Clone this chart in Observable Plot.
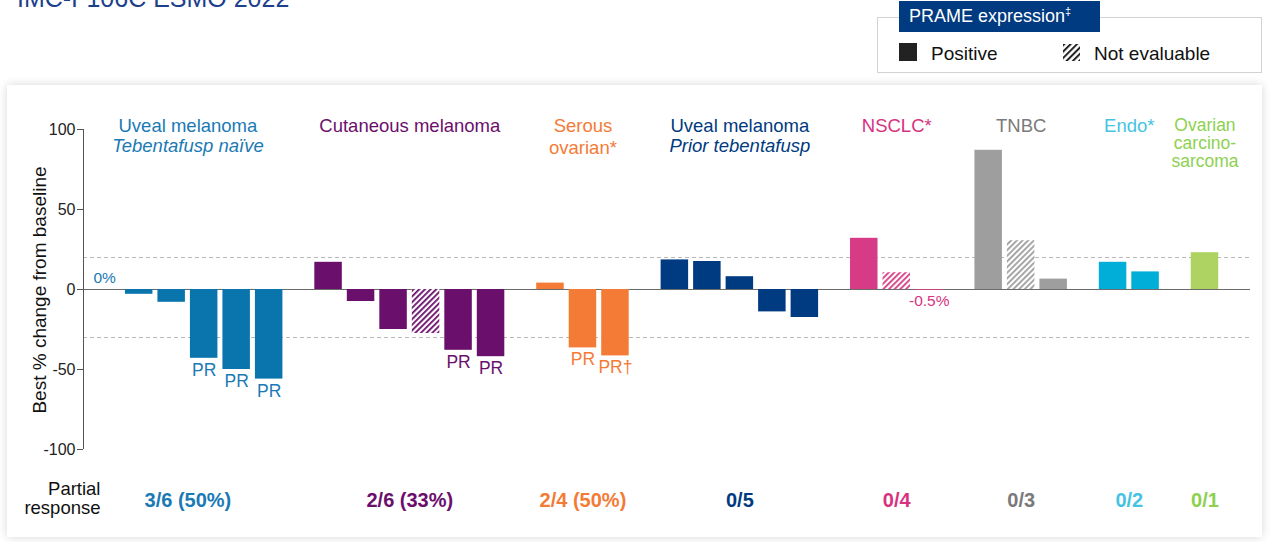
<!DOCTYPE html>
<html><head><meta charset="utf-8">
<script src="https://cdn.jsdelivr.net/npm/d3@7"></script>
<script src="https://cdn.jsdelivr.net/npm/@observablehq/plot@0.6"></script>
<style>
body{margin:0;background:#fff;font-family:"Liberation Sans",Arial,sans-serif;}
#page{position:relative;width:1280px;height:542px;overflow:hidden;background:#fff;}
#title{position:absolute;left:17px;top:-14px;font-size:25px;line-height:25px;color:#1d3f8c;white-space:nowrap;}
#legendBox{position:absolute;left:877px;top:17px;width:385px;height:56px;border:1px solid #d2d2d2;box-sizing:border-box;background:#fff;}
#legendHead{position:absolute;left:899px;top:1px;width:201px;height:31px;background:#003a80;color:#fff;font-size:18px;line-height:31px;padding-left:10px;box-sizing:border-box;white-space:nowrap;}
#legendHead sup{font-size:11px;vertical-align:7px;line-height:0;}
.legItem{position:absolute;top:44px;height:20px;line-height:20px;font-size:19px;color:#111;white-space:nowrap;}
#card{position:absolute;left:7px;top:85px;width:1255px;height:452px;background:#fff;box-shadow:0 0 9px rgba(0,0,0,0.16);}
#chart{position:absolute;left:0;top:85px;}
#ylabel{position:absolute;left:40px;top:290px;transform:translate(-50%,-50%) rotate(-90deg);font-size:19px;color:#111;white-space:nowrap;}
</style></head>
<body>
<div id="page">
  <div id="title">IMC-F106C ESMO 2022</div>
  <div id="legendBox"></div>
  <div id="legendHead">PRAME expression<sup>‡</sup></div>
  <svg class="legItem" style="left:899px;top:43px" width="18" height="18"><rect width="18" height="18" fill="#222"/></svg>
  <div class="legItem" style="left:931px">Positive</div>
  <svg class="legItem" style="left:1063px;top:44px" width="17" height="17"><rect width="17" height="17" fill="url(#hatch-legend)"/></svg>
  <div class="legItem" style="left:1094px">Not evaluable</div>
  <div id="card"></div>
  <div id="chart"></div>
  <div id="ylabel">Best % change from baseline</div>
</div>
<svg width="0" height="0" style="position:absolute" id="defs"><defs id="patdefs"></defs></svg>
<script>
// ---- data ----
const groupNames = ["Uveal melanoma", "Cutaneous melanoma", "Serous\novarian*", "Uveal melanoma", "NSCLC*", "TNBC", "Endo*", "Ovarian\ncarcino-\nsarcoma"];
const groupSubtitles = ["Tebentafusp naïve", "", "", "Prior tebentafusp", "", "", "", ""];
const groupColors = ["#0a75ad", "#6b0f6d", "#f47b36", "#003a80", "#d83b85", "#9e9e9e", "#00aed8", "#aed362"];
const groupTextColors = ["#1a7ab5", "#6b0f6d", "#f47b36", "#003a80", "#d8327f", "#7a7a7a", "#45c3e3", "#8dd14f"];
const responseLabels = ["3/6 (50%)", "2/6 (33%)", "2/4 (50%)", "0/5", "0/4", "0/3", "0/2", "0/1"];

const uvealNaiveValues = [0, -3, -8, -43, -50, -56];
const cutaneousValues = [17, -7.5, -25, -27.5, -38, -42];
const serousValues = [4, -36.5, -41.5];
const uvealPriorValues = [18.5, 17.5, 8, -14, -17.5];
const nsclcValues = [32, 10.5, -0.5];
const tnbcValues = [87, 30.5, 6.5];
const endoValues = [17, 11];
const ovCarcinosarcomaValues = [23];

const uvealNaiveLabels = ["", "", "", "PR", "PR", "PR"];
const cutaneousLabels = ["", "", "", "", "PR", "PR"];
const serousLabels = ["", "PR", "PR†"];

const notEvaluableIndex = [[], [3], [], [], [1], [1], [], []];
const valueNotes = [{g: 0, i: 0, text: "0%", side: "above"}, {g: 4, i: 2, text: "-0.5%", side: "below"}];

// ---- build ----
const groupValues = [uvealNaiveValues, cutaneousValues, serousValues, uvealPriorValues, nsclcValues, tnbcValues, endoValues, ovCarcinosarcomaValues];
const groupLabels = [uvealNaiveLabels, cutaneousLabels, serousLabels, [], [], [], [], []];
const BAR_W = 0.846, GROUP_GAP = 0.828;
const rows = [], groups = [];
let pos = 0;
groupValues.forEach((vals, g) => {
  const start = pos;
  vals.forEach((v, i) => {
    rows.push({g, i, value: v, x1: pos, x2: pos + BAR_W, xc: pos + BAR_W / 2,
      ne: notEvaluableIndex[g].includes(i), pr: (groupLabels[g][i] || "")});
    pos += 1;
  });
  groups.push({g, center: (start + pos - 1 + BAR_W) / 2, name: groupNames[g], sub: groupSubtitles[g],
    resp: responseLabels[g], color: groupTextColors[g]});
  pos += GROUP_GAP;
});
const notes = valueNotes.map(n => {
  const r = rows.find(d => d.g === n.g && d.i === n.i);
  return {...n, xc: r.xc, value: r.value, color: groupTextColors[n.g]};
});

// hatch patterns
const ns = "http://www.w3.org/2000/svg";
const defs = document.getElementById("patdefs");
function addPattern(id, color, size, stripe) {
  const p = document.createElementNS(ns, "pattern");
  p.setAttribute("id", id); p.setAttribute("patternUnits", "userSpaceOnUse");
  p.setAttribute("width", size); p.setAttribute("height", size);
  p.setAttribute("patternTransform", "rotate(-45)");
  const bg = document.createElementNS(ns, "rect");
  bg.setAttribute("width", size); bg.setAttribute("height", size); bg.setAttribute("fill", "#fff");
  const fg = document.createElementNS(ns, "rect");
  fg.setAttribute("width", size); fg.setAttribute("height", stripe); fg.setAttribute("fill", color);
  p.appendChild(bg); p.appendChild(fg); defs.appendChild(p);
}
groupColors.forEach((c, g) => addPattern("hatch-" + g, c, 4, 1.8));
addPattern("hatch-legend", "#222", 4.5, 2);

const xDomain = [-0.29, 35.62];
const yDomain = [-100, 100];

const chart = Plot.plot({
  width: 1280, height: 452,
  marginLeft: 83, marginRight: 30, marginTop: 44, marginBottom: 88,
  x: {type: "linear", domain: xDomain, axis: null},
  y: {domain: yDomain, axis: null},
  color: {type: "identity"},
  style: {fontFamily: "'Liberation Sans', Arial, sans-serif", fontSize: "16px", background: "transparent", overflow: "visible"},
  marks: [
    Plot.ruleY([20, -30], {stroke: "#b8b8b8", strokeDasharray: "4,3", strokeWidth: 1}),
    Plot.ruleY([0], {stroke: "#6b6b6b", strokeWidth: 1}),
    Plot.rect(rows, {x1: "x1", x2: "x2", y1: () => 0, y2: "value",
      fill: d => d.ne ? `url(#hatch-${d.g})` : groupColors[d.g]}),
    Plot.ruleX([xDomain[0]], {y1: yDomain[0], y2: yDomain[1], stroke: "#555"}),
    Plot.axisY({ticks: [-100, -50, 0, 50, 100], tickSize: 6, tickPadding: 2, fontSize: 16, label: null,
      tickFormat: d => String(d), color: "#222", stroke: "#555"}),
    Plot.text(rows.filter(d => d.pr), {x: "xc", y: "value", text: "pr", fill: d => groupTextColors[d.g],
      lineAnchor: "top", dy: 5, fontSize: 17.5}),
    Plot.text(notes.filter(d => d.side === "above"), {x: "xc", y: "value", text: "text", fill: "color",
      lineAnchor: "middle", dy: -11, dx: -2, fontSize: 15.5}),
    Plot.text(notes.filter(d => d.side === "below"), {x: "xc", y: "value", text: "text", fill: "color",
      lineAnchor: "middle", dy: 11, fontSize: 15.5}),
    Plot.text(groups.filter(d => d.g !== 7), {x: "center", frameAnchor: "top", text: "name", fill: "color",
      lineAnchor: "top", dy: -13, fontSize: 18.5, lineHeight: 1.19}),
    Plot.text(groups.filter(d => d.g === 7), {x: "center", frameAnchor: "top", text: "name", fill: "color",
      lineAnchor: "top", dy: -11, fontSize: 17.5, lineHeight: 1.03}),
    Plot.text(groups.filter(d => d.sub), {x: "center", frameAnchor: "top", text: "sub", fill: "color",
      lineAnchor: "top", dy: 9, fontSize: 18.5, fontStyle: "italic"}),
    Plot.text(groups, {x: "center", frameAnchor: "bottom", text: "resp", fill: "color",
      lineAnchor: "middle", dy: 51, fontSize: 20, fontWeight: "bold"}),
    Plot.text(["Partial\nresponse"], {text: d => d, frameAnchor: "bottom-left", textAnchor: "end",
      dx: 17, dy: 48.5, lineAnchor: "middle", fontSize: 18.5, lineHeight: 1.05, fill: "#111"})
  ]
});
document.getElementById("chart").appendChild(chart);
</script>
</body></html>
